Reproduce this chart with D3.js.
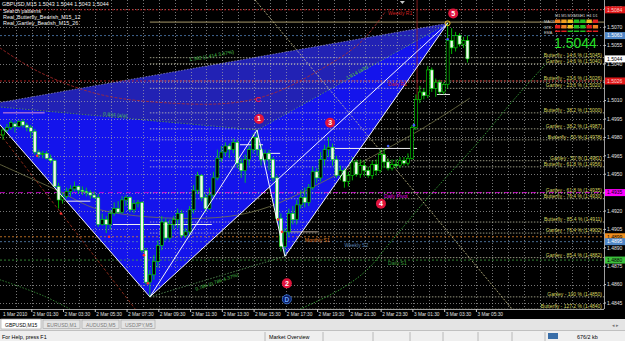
<!DOCTYPE html>
<html>
<head>
<meta charset="utf-8">
<script src="https://cdn.jsdelivr.net/npm/d3@7"></script>
<style>
  body { margin: 0; background: #000; }
  svg { display: block; font-family: "Liberation Sans", "DejaVu Sans", sans-serif; }
</style>
</head>
<body>
<svg id="chart" width="625" height="341"></svg>
<script>
/* GBPUSD M15 with harmonic pattern overlay (MT4 screenshot look) */

// ---- data ----
// bars: open, high, low, close (15 min, from 1 Mar 23:30)
const BARS = [
  [1.4982,1.4988,1.4978,1.4986],[1.4986,1.4991,1.4984,1.4988],[1.4988,1.4994,1.4986,1.4992],[1.4991,1.4993,1.4984,1.4989],
  [1.4989,1.4994,1.4988,1.4993],[1.4993,1.4995,1.4988,1.4990],[1.4990,1.4992,1.4985,1.4988],[1.4988,1.4990,1.4980,1.4985],
  [1.4985,1.4987,1.4966,1.4968],[1.4968,1.4970,1.4963,1.4966],[1.4966,1.4969,1.4963,1.4967],[1.4967,1.4969,1.4962,1.4963],
  [1.4963,1.4966,1.4959,1.4961],[1.4961,1.4962,1.4939,1.4940],[1.4940,1.4943,1.4922,1.4929],[1.4929,1.4935,1.4926,1.4932],
  [1.4932,1.4939,1.4930,1.4936],[1.4936,1.4941,1.4932,1.4938],[1.4938,1.4944,1.4936,1.4940],[1.4940,1.4941,1.4934,1.4937],
  [1.4937,1.4940,1.4933,1.4936],[1.4936,1.4939,1.4932,1.4935],[1.4935,1.4937,1.4930,1.4933],[1.4933,1.4936,1.4930,1.4931],
  [1.4931,1.4934,1.4907,1.4909],[1.4909,1.4918,1.4908,1.4913],[1.4913,1.4916,1.4902,1.4909],[1.4909,1.4921,1.4905,1.4918],
  [1.4918,1.4927,1.4916,1.4922],[1.4922,1.4928,1.4918,1.4919],[1.4919,1.4932,1.4918,1.4929],[1.4929,1.4933,1.4924,1.4931],
  [1.4931,1.4932,1.4919,1.4921],[1.4921,1.4929,1.4918,1.4926],[1.4926,1.4929,1.4923,1.4927],[1.4927,1.4928,1.4886,1.4888],
  [1.4888,1.4890,1.4860,1.4862],[1.4862,1.4872,1.4850,1.4868],[1.4868,1.4884,1.4864,1.4879],[1.4879,1.4896,1.4874,1.4892],
  [1.4892,1.4916,1.4888,1.4911],[1.4911,1.4914,1.4896,1.4898],[1.4898,1.4913,1.4896,1.4909],[1.4909,1.4916,1.4905,1.4913],
  [1.4913,1.4922,1.4906,1.4918],[1.4918,1.4921,1.4898,1.4900],[1.4900,1.4906,1.4898,1.4903],[1.4903,1.4924,1.4900,1.4921],
  [1.4921,1.4941,1.4918,1.4937],[1.4937,1.4952,1.4934,1.4949],[1.4949,1.4950,1.4928,1.4931],[1.4931,1.4934,1.4919,1.4922],
  [1.4922,1.4939,1.4921,1.4933],[1.4933,1.4952,1.4931,1.4947],[1.4947,1.4970,1.4945,1.4963],[1.4963,1.4973,1.4960,1.4968],
  [1.4968,1.4976,1.4965,1.4973],[1.4973,1.4975,1.4963,1.4970],[1.4970,1.4979,1.4967,1.4976],[1.4976,1.4978,1.4955,1.4959],
  [1.4959,1.4963,1.4947,1.4953],[1.4953,1.4966,1.4943,1.4962],[1.4962,1.4973,1.4957,1.4970],[1.4970,1.4983,1.4967,1.4980],
  [1.4980,1.4986,1.4965,1.4970],[1.4970,1.4974,1.4957,1.4962],[1.4962,1.4970,1.4958,1.4967],[1.4967,1.4970,1.4953,1.4962],
  [1.4962,1.4964,1.4944,1.4947],[1.4947,1.4949,1.4911,1.4914],[1.4914,1.4918,1.4887,1.4891],[1.4891,1.4906,1.4883,1.4903],
  [1.4903,1.4922,1.4899,1.4918],[1.4918,1.4924,1.4909,1.4913],[1.4913,1.4929,1.4909,1.4925],[1.4925,1.4937,1.4922,1.4931],
  [1.4931,1.4939,1.4923,1.4927],[1.4927,1.4942,1.4924,1.4939],[1.4939,1.4956,1.4937,1.4952],[1.4952,1.4955,1.4943,1.4947],
  [1.4947,1.4968,1.4944,1.4962],[1.4962,1.4974,1.4957,1.4970],[1.4970,1.4980,1.4964,1.4972],[1.4972,1.4975,1.4957,1.4962],
  [1.4962,1.4965,1.4947,1.4949],[1.4949,1.4957,1.4945,1.4953],[1.4953,1.4955,1.4939,1.4944],[1.4944,1.4952,1.4940,1.4949],
  [1.4949,1.4964,1.4945,1.4960],[1.4960,1.4962,1.4948,1.4950],[1.4950,1.4962,1.4947,1.4957],[1.4957,1.4961,1.4948,1.4953],
  [1.4953,1.4956,1.4947,1.4949],[1.4949,1.4961,1.4946,1.4958],[1.4958,1.4962,1.4949,1.4953],[1.4953,1.4970,1.4951,1.4966],
  [1.4966,1.4971,1.4955,1.4960],[1.4960,1.4963,1.4953,1.4955],[1.4955,1.4962,1.4953,1.4958],[1.4958,1.4962,1.4955,1.4957],
  [1.4957,1.4964,1.4955,1.4961],[1.4961,1.4964,1.4957,1.4959],[1.4959,1.4967,1.4957,1.4963],[1.4963,1.4990,1.4962,1.4988],
  [1.4988,1.5015,1.4986,1.5011],[1.5011,1.5022,1.5008,1.5017],[1.5017,1.5020,1.5011,1.5014],[1.5014,1.5038,1.5012,1.5035],
  [1.5035,1.5037,1.5017,1.5020],[1.5020,1.5028,1.5013,1.5025],[1.5025,1.5027,1.5015,1.5017],[1.5017,1.5025,1.5015,1.5023],
  [1.5023,1.5073,1.5020,1.5059],[1.5059,1.5069,1.5048,1.5053],[1.5053,1.5066,1.5050,1.5063],[1.5063,1.5065,1.5054,1.5056],
  [1.5056,1.5062,1.5053,1.5059],[1.5059,1.5063,1.5041,1.5044]
];

const TIME_LABELS = ["1 Mar 2010","2 Mar 01:30","2 Mar 03:30","2 Mar 05:30","2 Mar 07:30","2 Mar 09:30",
  "2 Mar 11:30","2 Mar 13:30","2 Mar 15:30","2 Mar 17:30","2 Mar 19:30","2 Mar 21:30","2 Mar 23:30",
  "3 Mar 01:30","3 Mar 03:30","3 Mar 05:30"];
const TIME_LABEL_BARS = [-0.25,7.25,15.25,23.25,31.25,39.25,47.25,55.25,63.25,71.25,79.25,87.25,95.25,103.25,111.25,119.25];

const PRICE_TICKS = [1.5085,1.5070,1.5055,1.5040,1.5025,1.5010,1.4995,1.4980,1.4965,1.4950,1.4935,1.4920,1.4905,1.4890,1.4875,1.4860,1.4845];

// harmonic pattern points X A B C D
const PATTERN_NAMES  = ["X","A","B","C","D"];
const PATTERN_BARS   = [-5, 37, 64, 71, 112];
const PATTERN_PRICES = [1.5006, 1.4850, 1.4986, 1.4883, 1.5073];

// pivot style levels
const LEVEL_NAMES  = ["Weekly R1","","Daily R1","Daily Pivot","Monthly S1","Weekly S2","Daily S1"];
const LEVEL_PRICES = [1.5084, 1.5063, 1.5026, 1.4935, 1.4899, 1.4895, 1.4880];
const LEVEL_COLORS = ["#d42020","#4f7fb8","#d42020","#e000e0","#e0842a","#5a86b8","#3fa23f"];
const LEVEL_TEXT_BARS = [97, 0, 97, 96, 76, 86, 97];

// fibonacci retracement labels on the right
const FIB_LABELS = ["Butterfly - 14.6 % (1.5045)","Gartley - 14.6 % (1.5040)","Butterfly - 23.6 % (1.5026)",
  "Gartley - 23.6 % (1.5020)","Butterfly - 38.2 % (1.5000)","Gartley - 38.2 % (1.4987)","Butterfly - 50 % (1.4978)",
  "Gartley - 50 % (1.4961)","Butterfly - 61.8 % (1.4956)","Gartley - 61.8 % (1.4935)","Butterfly - 76.4 % (1.4930)",
  "Butterfly - 85.4 % (1.4911)","Gartley - 76.4 % (1.4902)","Gartley - 85.4 % (1.4882)","Gartley - 100 % (1.4850)",
  "Butterfly - 127.2 % (1.4840)"];
const FIB_PRICES = [1.5045,1.5040,1.5026,1.5020,1.5000,1.4987,1.4978,1.4961,1.4956,1.4935,1.4930,1.4911,1.4902,1.4882,1.4850,1.4840];

// curved fibo arcs (bar index, price)
const ARC_OLIVE_BARS   = [-0.8, 13.6, 24.4, 49.6, 64.7, 85.6, 105, 117.6];
const ARC_OLIVE_PRICES = [1.4958, 1.4937, 1.4921, 1.4914, 1.4921, 1.4952, 1.4986, 1.5012];
const ARC_GREEN_BARS   = [74.8, 84.9, 91.7, 96.7, 107.6, 119.4, 129, 136.5];
const ARC_GREEN_PRICES = [1.4840, 1.4856, 1.4872, 1.4891, 1.4933, 1.4975, 1.5012, 1.5039];
const ARC_LOW_BARS     = [-0.8, 10.1, 16.9];
const ARC_LOW_PRICES   = [1.4864, 1.4851, 1.4840];
const ARC_RED_BARS     = [-0.8, 9.3, 24.4, 42.1, 57.2, 67.3, 79.8, 89.9, 96.2];
const ARC_RED_PRICES   = [1.5053, 1.5033, 1.5015, 1.5008, 1.5008, 1.5015, 1.5035, 1.5057, 1.5082];

// straight trend lines [bar1, price1, bar2, price2]
const TREND_LINES = [
  [-0.8, 1.4983, 35, 1.4833],   // brown dashed
  [63.5, 1.5092, 128.5, 1.4839] // pale yellow
];

// numbered markers
const MARK_TEXT   = ["1","2","3","4","5"];
const MARK_BARS   = [64.5, 71.5, 82.4, 95.2, 113.4];
const MARK_PRICES = [1.4995, 1.4861, 1.4992, 1.4926, 1.5081];

// fractal dots
const RED_DOT_BARS   = [8.6, 14.6, 26.7, 35.5, 36.5, 69.3, 70.3];
const RED_DOT_PRICES = [1.4965, 1.4918, 1.4899, 1.4884, 1.4861, 1.4913, 1.4903];
const BLUE_DOT_BARS   = [97, 103.5, 112];
const BLUE_DOT_PRICES = [1.4973, 1.4990, 1.5060];

// short horizontal segments [from bar, to bar, price]
const SEG_FROM  = [0, 16, 27.7, 59.7, 66.5, 83.6, 72.3, 109.3];
const SEG_TO    = [10.5, 22, 52.6, 65.5, 69.8, 104.3, 79.3, 112.6];
const SEG_PRICE = [1.5000, 1.4928, 1.4909, 1.4974, 1.4967, 1.4971, 1.4903, 1.5015];

// indicator panel (top right)
const PANEL_TF   = ["M1","M5","M15","M30","H1","H4","D1"];
const PANEL_ROWS = ["MACD","STR","EMA"];
const PANEL_CELLS = [
  ["#f08020","#f0a020","#f0c020","#20c020","#20c020","#f0c020","#e02020"],
  ["#e02020","#f08020","#f0c020","#20c020","#20c020","#e02020","#f08020"],
  ["#e02020","#e02020","#20c020","#20c020","#20c020","#e02020","#e02020"]
];

const SYMBOL_LINE = "GBPUSD,M15  1.5043 1.5044 1.5043 1.5044";
const INFO_LINES  = ["Search patterns","Real_Butterfly_Bearish_M15_12","Real_Gartley_Bearish_M15_26"];
const TABS = ["GBPUSD,M15","EURUSD,M1","AUDUSD,M5","USDJPY,M5"];

// ---- layout ----
const W = 625, H = 341;
const PLOT_R = 604, PLOT_B = 309;

const x = d3.scaleLinear().domain([0, 150]).range([3, 3 + 150 * 3.97]);
const y = d3.scaleLinear().domain([1.4845, 1.5070]).range([303, 27]);

const svg = d3.select("#chart");
svg.append("rect").attr("width", W).attr("height", H).attr("fill", "#000");

const defs = svg.append("defs");
defs.append("clipPath").attr("id", "plot")
  .append("rect").attr("x", 0).attr("y", 0).attr("width", PLOT_R).attr("height", PLOT_B);

const g = svg.append("g").attr("clip-path", "url(#plot)");

const P = PATTERN_NAMES.map((n, i) => [x(PATTERN_BARS[i]), y(PATTERN_PRICES[i])]);
const [pX, pA, pB, pC, pD] = P;

// pattern fills
const tri = pts => "M" + pts.map(p => p.join(",")).join("L") + "Z";
g.append("path").attr("d", tri([pX, pB, pD])).attr("fill", "#2222b4");
g.append("path").attr("d", tri([pX, pA, pB])).attr("fill", "#1414ec");
g.append("path").attr("d", tri([pA, pB, pD])).attr("fill", "#1414ec");
g.append("path").attr("d", tri([pB, pC, pD])).attr("fill", "#1414ec");

// grid
g.append("g").selectAll("line").data(PRICE_TICKS).join("line")
  .attr("x1", 0).attr("x2", PLOT_R)
  .attr("y1", d => Math.round(y(d)) + 0.5).attr("y2", d => Math.round(y(d)) + 0.5)
  .attr("stroke", "#a8a8a8").attr("stroke-width", 0.7).attr("stroke-dasharray", "1,2");
const vGrid = d3.range(3.25, 150, 4);
g.append("g").selectAll("line").data(vGrid).join("line")
  .attr("x1", d => Math.round(x(d)) + 0.5).attr("x2", d => Math.round(x(d)) + 0.5)
  .attr("y1", 0).attr("y2", PLOT_B)
  .attr("stroke", "#a8a8a8").attr("stroke-width", 0.7).attr("stroke-dasharray", "1,2");

// fib lines
g.append("g").selectAll("line").data(FIB_PRICES).join("line")
  .attr("x1", x(37)).attr("x2", PLOT_R)
  .attr("y1", d => y(d)).attr("y2", d => y(d))
  .attr("stroke", "#d8d8b8").attr("stroke-width", 0.7).attr("stroke-dasharray", "1.5,1.5");

// pivot levels
LEVEL_PRICES.forEach((p, i) => {
  g.append("line").attr("x1", 0).attr("x2", PLOT_R).attr("y1", y(p)).attr("y2", y(p))
    .attr("stroke", LEVEL_COLORS[i]).attr("stroke-width", 0.8)
    .attr("stroke-dasharray", i === 3 ? "5,4" : "2,2");
});
// top khaki line
g.append("line").attr("x1", x(37)).attr("x2", PLOT_R).attr("y1", y(1.5074)).attr("y2", y(1.5074))
  .attr("stroke", "#a89a6a").attr("stroke-width", 1);

// arcs
const curve = d3.line().x(d => x(d[0])).y(d => y(d[1])).curve(d3.curveCatmullRom);
const arc = (bars, prices, col, dash, w) => g.append("path")
  .attr("d", curve(bars.map((b, i) => [b, prices[i]])))
  .attr("fill", "none").attr("stroke", col).attr("stroke-width", w || 0.8)
  .attr("stroke-dasharray", dash || null);
arc(ARC_OLIVE_BARS, ARC_OLIVE_PRICES, "#76764a", null, 0.8);
arc(ARC_GREEN_BARS, ARC_GREEN_PRICES, "#3aa83a", "1.5,1.5", 0.9);
arc(ARC_LOW_BARS, ARC_LOW_PRICES, "#3a9a3a", "1.5,1.5", 0.8);
arc(ARC_RED_BARS, ARC_RED_PRICES, "#b02a2a", "3,1.5", 0.8);

// trend lines
const TL_COL = ["#a8321e", "#cfc890"];
const TL_DASH = ["3,2", "2,1.5"];
TREND_LINES.forEach((l, i) => g.append("line")
  .attr("x1", x(l[0])).attr("y1", y(l[1])).attr("x2", x(l[2])).attr("y2", y(l[3]))
  .attr("stroke", TL_COL[i]).attr("stroke-width", 0.8).attr("stroke-dasharray", TL_DASH[i]));
// red vertical line
g.append("line").attr("x1", x(104.3)).attr("x2", x(104.3)).attr("y1", y(1.5092)).attr("y2", y(1.5010))
  .attr("stroke", "#a02222").attr("stroke-width", 0.8);

// ratio lines
const dotted = (a, b, col) => g.append("line").attr("x1", a[0]).attr("y1", a[1]).attr("x2", b[0]).attr("y2", b[1])
  .attr("stroke", col).attr("stroke-width", 0.8).attr("stroke-dasharray", "1.5,1.5");
dotted(pX, pB, "#5fa05f");
dotted(pB, pD, "#5fa05f");
dotted(pA, pC, "#5fa05f");
dotted(pX, pD, "#8a8ab8");

// short horizontal segments
SEG_PRICE.forEach((p, i) => {
  g.append("line").attr("x1", x(SEG_FROM[i])).attr("x2", x(SEG_TO[i]))
    .attr("y1", y(p)).attr("y2", y(p))
    .attr("stroke", i === 0 ? "#e090d0" : (i === 6 ? "#b0a090" : "#f0f0f0")).attr("stroke-width", 1);
});

// candles
const bw = 3;
const cg = g.append("g");
cg.selectAll("line").data(BARS).join("line")
  .attr("x1", (d, i) => x(i)).attr("x2", (d, i) => x(i))
  .attr("y1", d => y(d[1])).attr("y2", d => y(d[2]))
  .attr("stroke", "#00e000").attr("stroke-width", 0.8);
cg.selectAll("rect").data(BARS).join("rect")
  .attr("x", (d, i) => x(i) - bw / 2)
  .attr("y", d => y(Math.max(d[0], d[3])))
  .attr("width", bw)
  .attr("height", d => Math.max(0.8, Math.abs(y(d[0]) - y(d[3]))))
  .attr("fill", d => d[3] >= d[0] ? "#000" : "#f4f4f4")
  .attr("stroke", "#00e000").attr("stroke-width", 0.6);

// pattern legs
const solid = (a, b) => g.append("line").attr("x1", a[0]).attr("y1", a[1]).attr("x2", b[0]).attr("y2", b[1])
  .attr("stroke", "#f4f4ff").attr("stroke-width", 1);
solid(pX, pA); solid(pA, pB); solid(pB, pC); solid(pC, pD); solid(pA, pD);

// dots
g.append("g").selectAll("circle").data(RED_DOT_BARS).join("circle")
  .attr("cx", d => x(d)).attr("cy", (d, i) => y(RED_DOT_PRICES[i])).attr("r", 1.3).attr("fill", "#ff3030");
g.append("g").selectAll("circle").data(BLUE_DOT_BARS).join("circle")
  .attr("cx", d => x(d)).attr("cy", (d, i) => y(BLUE_DOT_PRICES[i])).attr("r", 1.3).attr("fill", "#4060ff");

// ratio texts
const rtext = (t, bar, price, ang, col) => g.append("text")
  .attr("transform", `translate(${x(bar)},${y(price)}) rotate(${ang})`)
  .attr("fill", col || "#4ec24e").attr("font-size", 5).text(t);
rtext("0.834 (a/a)", 25.2, 1.4998, 5);
rtext("1.362 (1.414 3.67%)", 47, 1.5042, -10);
rtext("1.414 (a/b)", 86.7, 1.5027, -29);
rtext("0.786 (0.786 4.37%)", 48.6, 1.4855, -19);

// level names
LEVEL_NAMES.forEach((n, i) => {
  if (!n) return;
  g.append("text").attr("x", x(LEVEL_TEXT_BARS[i])).attr("y", y(LEVEL_PRICES[i]) + 5)
    .attr("fill", LEVEL_COLORS[i]).attr("font-size", 5).text(n);
});

// fib labels
g.append("g").selectAll("text").data(FIB_LABELS).join("text")
  .attr("x", PLOT_R - 2).attr("y", (d, i) => y(FIB_PRICES[i]) - 1)
  .attr("text-anchor", "end").attr("fill", "#d8d860").attr("font-size", 5).text(d => d);

// markers
const mk = g.append("g");
MARK_TEXT.forEach((t, i) => {
  const cx = x(MARK_BARS[i]), cy = y(MARK_PRICES[i]);
  mk.append("circle").attr("cx", cx).attr("cy", cy).attr("r", 5).attr("fill", "#e0143c");
  mk.append("text").attr("x", cx).attr("y", cy + 2.4).attr("text-anchor", "middle")
    .attr("fill", "#fff").attr("font-size", 7).attr("font-weight", "bold").text(t);
});
mk.append("circle").attr("cx", x(71.5)).attr("cy", y(1.4848)).attr("r", 4.5)
  .attr("fill", "#0a1a60").attr("stroke", "#3a7adf").attr("stroke-width", 0.8);
mk.append("text").attr("x", x(71.5)).attr("y", y(1.4848) + 2.3).attr("text-anchor", "middle")
  .attr("fill", "#6aa8ff").attr("font-size", 6.5).attr("font-weight", "bold").text("D");
mk.append("text").attr("x", x(64.2)).attr("y", y(1.5011) + 2.8).attr("text-anchor", "middle")
  .attr("fill", "#f01840").attr("font-size", 8).attr("font-weight", "bold").text("C");
mk.append("circle").attr("cx", pD[0]).attr("cy", pD[1]).attr("r", 2.4)
  .attr("fill", "none").attr("stroke", "#f0c020").attr("stroke-width", 1);
// chart shift marker
svg.append("path").attr("d", `M${x(100.6) - 2.5},1L${x(100.6) + 2.5},1L${x(100.6)},4Z`).attr("fill", "#c8c8c8");

// top-left info
const info = svg.append("g").attr("fill", "#f0f0f0").attr("font-size", 5.4);
info.append("text").attr("x", 2).attr("y", 6).text(SYMBOL_LINE);
INFO_LINES.forEach((t, i) => info.append("text").attr("x", 3).attr("y", 12.5 + i * 6).text(t));

// indicator panel
const pg = svg.append("g").attr("font-size", 3.8);
PANEL_TF.forEach((t, j) => pg.append("text").attr("x", 555 + j * 6.3).attr("y", 17).attr("fill", "#d0d0d0").text(t));
PANEL_ROWS.forEach((r, i) => {
  pg.append("text").attr("x", 544).attr("y", 23 + i * 5.5).attr("fill", "#d0d0d0").text(r);
  PANEL_CELLS[i].forEach((c, j) => pg.append("rect")
    .attr("x", 555 + j * 6.3).attr("y", 19.5 + i * 5.5).attr("width", 5.3).attr("height", i === 2 ? 1.5 : 3.5).attr("fill", c));
});
svg.append("text").attr("x", 554).attr("y", 48).attr("fill", "#28e028")
  .attr("font-size", 14).text("1.5044");

// price axis
svg.append("line").attr("x1", PLOT_R + 0.5).attr("x2", PLOT_R + 0.5).attr("y1", 0).attr("y2", PLOT_B)
  .attr("stroke", "#c8c8c8").attr("stroke-width", 0.8);
svg.append("line").attr("x1", 0).attr("x2", PLOT_R).attr("y1", PLOT_B + 0.5).attr("y2", PLOT_B + 0.5)
  .attr("stroke", "#c8c8c8").attr("stroke-width", 0.8);
const ya = svg.append("g");
ya.selectAll("text").data(PRICE_TICKS).join("text")
  .attr("x", 607).attr("y", d => y(d) + 1.8).attr("fill", "#e0e0e0").attr("font-size", 5).text(d => d.toFixed(4));
ya.selectAll("line").data(PRICE_TICKS).join("line")
  .attr("x1", PLOT_R).attr("x2", PLOT_R + 2).attr("y1", d => y(d)).attr("y2", d => y(d)).attr("stroke", "#c8c8c8");

const TAG_PRICES = [1.5084, 1.5063, 1.5044, 1.5026, 1.4935, 1.4899, 1.4895, 1.4880];
const TAG_BG = ["#e01818","#4f86c6","#ffffff","#e01818","#ff00ff","#f09020","#4f86c6","#3cc03c"];
const TAG_FG = ["#ffd0d0","#ffffff","#000000","#ffd0d0","#000000","#000000","#ffffff","#000000"];
TAG_PRICES.forEach((p, i) => {
  svg.append("rect").attr("x", 605).attr("y", y(p) - 3.5).attr("width", 20).attr("height", 7).attr("fill", TAG_BG[i]);
  svg.append("text").attr("x", 607).attr("y", y(p) + 1.8).attr("fill", TAG_FG[i]).attr("font-size", 5).text(p.toFixed(4));
});

// time axis
const xa = svg.append("g");
xa.selectAll("text").data(TIME_LABELS).join("text")
  .attr("x", (d, i) => x(TIME_LABEL_BARS[i]) + 1).attr("y", 316).attr("fill", "#e0e0e0").attr("font-size", 4.8).text(d => d);
xa.selectAll("line").data(TIME_LABEL_BARS.slice(1)).join("line")
  .attr("x1", d => x(d)).attr("x2", d => x(d)).attr("y1", PLOT_B).attr("y2", PLOT_B + 3).attr("stroke", "#c8c8c8");

// tabs + status bar
svg.append("rect").attr("x", 0).attr("y", 319).attr("width", W).attr("height", 11).attr("fill", "#e4e4e4");
const tabW = [40, 37, 37, 34];
let tx = 1;
TABS.forEach((t, i) => {
  svg.append("rect").attr("x", tx).attr("y", i === 0 ? 319 : 320).attr("width", tabW[i]).attr("height", i === 0 ? 10 : 8.5)
    .attr("fill", i === 0 ? "#ffffff" : "#e4e4e4").attr("stroke", "#a0a0a0").attr("stroke-width", 0.6);
  svg.append("text").attr("x", tx + 4).attr("y", 326.5).attr("fill", i === 0 ? "#000" : "#7a7a7a")
    .attr("font-size", 5).text(t);
  tx += tabW[i] + 2;
});
svg.append("text").attr("x", 612).attr("y", 327).attr("fill", "#777").attr("font-size", 5).text("◂ ▸");
svg.append("rect").attr("x", 0).attr("y", 330).attr("width", W).attr("height", 11).attr("fill", "#efefef");
svg.append("line").attr("x1", 0).attr("x2", W).attr("y1", 330.5).attr("y2", 330.5).attr("stroke", "#c0c0c0");
svg.append("text").attr("x", 2).attr("y", 338.5).attr("fill", "#000").attr("font-size", 5.4).text("For Help, press F1");
svg.append("text").attr("x", 269).attr("y", 338.5).attr("fill", "#000").attr("font-size", 5.4).text("Market Overview");
[265, 323, 373, 410, 443, 478, 512, 545].forEach(sx => svg.append("line")
  .attr("x1", sx).attr("x2", sx).attr("y1", 332).attr("y2", 341).attr("stroke", "#b8b8b8"));
svg.append("rect").attr("x", 548).attr("y", 333).attr("width", 10).attr("height", 6).attr("fill", "#3a6ea8");
svg.append("text").attr("x", 577).attr("y", 338.5).attr("fill", "#000").attr("font-size", 5.4).text("676/2 kb");
</script>
</body>
</html>
